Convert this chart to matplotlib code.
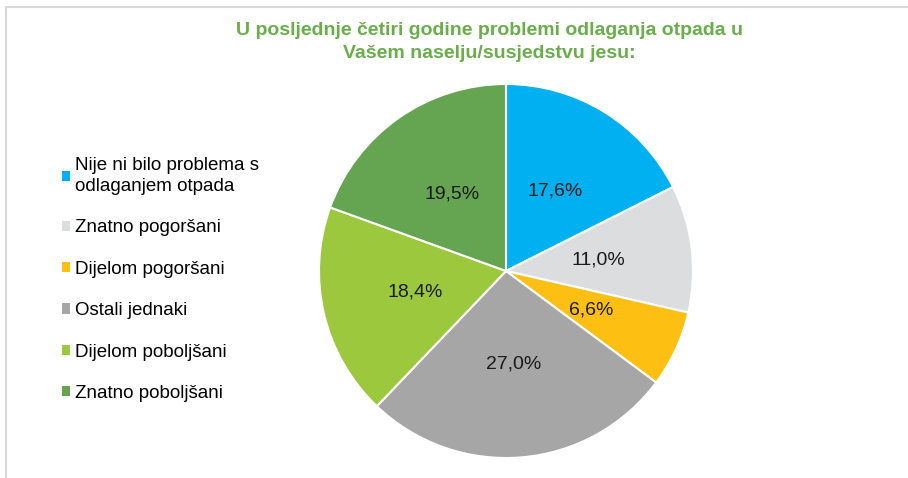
import matplotlib.pyplot as plt
from matplotlib.patches import Rectangle, Patch

plt.rcParams['font.family'] = ['Liberation Sans', 'DejaVu Sans']

# survey answers and their shares (%)
categories = [
    "Nije ni bilo problema s\nodlaganjem otpada",
    "Znatno pogoršani",
    "Dijelom pogoršani",
    "Ostali jednaki",
    "Dijelom poboljšani",
    "Znatno poboljšani",
]
shares = [17.6, 11.0, 6.6, 27.0, 18.4, 19.5]
colors = ["#00B0F0", "#DCDDDF", "#FDBF12", "#A6A6A6", "#9BC83C", "#65A552"]

title = "U posljednje četiri godine problemi odlaganja otpada u\nVašem naselju/susjedstvu jesu:"

W, H = 908, 478
fig = plt.figure(figsize=(W / 100, H / 100), dpi=100)

# light frame around the chart area
fig.add_artist(Rectangle((6 / W, -0.1), 1.1, 1 - 7.5 / H + 0.1, transform=fig.transFigure,
                         fill=False, edgecolor="#D9D9D9", linewidth=1.5))

fig.text(489 / W, 1 - 42 / H, title, ha="center", va="center", fontsize=14,
         fontweight="bold", color="#6AAE4C", linespacing=1.5)

# pie centred at (506, 271) px with radius ~187 px
cx, cy, r = 506, 271, 187
ax = fig.add_axes([(cx - r) / W, (H - cy - r) / H, 2 * r / W, 2 * r / H])
pct_labels = [f"{v:.1f}%".replace(".", ",") for v in shares]
wedges, texts = ax.pie(shares, colors=colors, labels=pct_labels, labeldistance=0.5,
                       startangle=90, counterclock=False,
                       wedgeprops=dict(edgecolor="white", linewidth=1.5),
                       textprops=dict(fontsize=14, color="#1a1a1a", ha="center", va="center"))
ax.set_xlim(-1, 1)
ax.set_ylim(-1, 1)
ax.set_aspect("equal")
ax.axis("off")

handles = [Patch(facecolor=c, edgecolor="none") for c in colors]
leg = fig.legend(handles, categories, loc="upper left", bbox_to_anchor=(45 / W, 1 - 140 / H),
                 frameon=False, fontsize=13.5, handlelength=0.45, handleheight=0.45,
                 handletextpad=0.25, labelspacing=1.3)
for t in leg.get_texts():
    t.set_linespacing(1.32)

fig.savefig("out.png", dpi=100)
